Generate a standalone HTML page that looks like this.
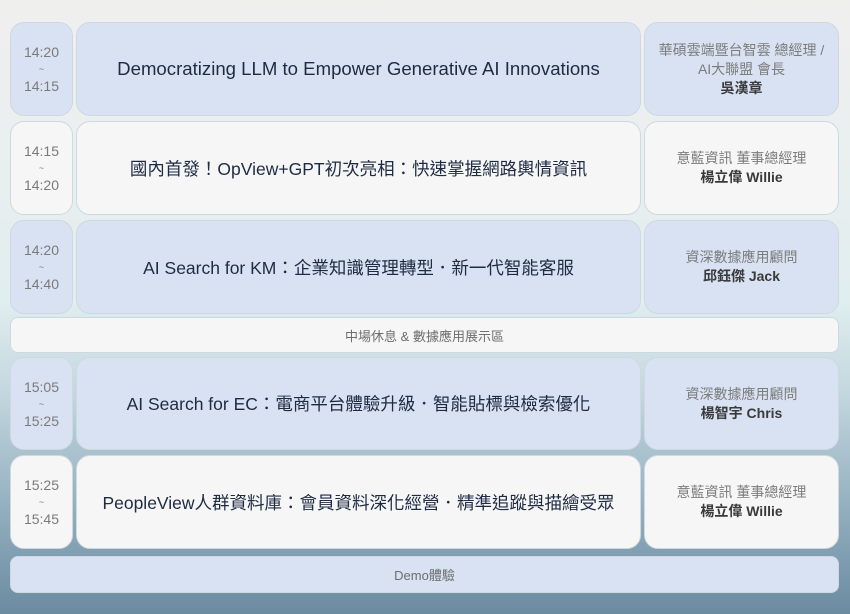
<!DOCTYPE html>
<html><head><meta charset="utf-8"><style>
*{margin:0;padding:0;box-sizing:border-box}
body{width:850px;height:614px;overflow:hidden;position:relative;font-family:"Liberation Sans","Noto Sans CJK TC",sans-serif;
background:linear-gradient(180deg,#efefee 0px,#eaefef 150px,#e0eeef 300px,#c4d8df 390px,#9fb9c7 480px,#7e9db0 560px,#6c8ba0 614px);}
.b{position:absolute;border-radius:14px;border:1px solid #cfd8e0;display:flex;flex-direction:column;align-items:center;justify-content:center;text-align:center}
.bl{background:#d9e2f3}.wh{background:#f6f6f6}
.t{color:#7a7a7a;font-size:14px;line-height:18px}
.t i{font-style:normal;font-size:9px;line-height:16px;display:block}
.ti{color:#1e2b42;font-size:17.5px}
.s1{color:#7c7c7c;font-size:14px;line-height:19px}
.s2{color:#3a3a3a;font-size:14px;font-weight:bold;line-height:19px}
.bar{color:#6d6d6d;font-size:13px}
</style></head><body>
<div class="b bl t" style="left:10px;top:22px;width:63px;height:94px">14:20<i>~</i>14:15</div>
<div class="b bl ti" style="left:76px;top:22px;width:565px;height:94px;font-size:18.6px">Democratizing LLM to Empower Generative AI Innovations</div>
<div class="b bl" style="left:644px;top:22px;width:195px;height:94px"><div class="s1">華碩雲端暨台智雲 總經理 /</div><div class="s1">AI大聯盟 會長</div><div class="s2">吳漢章</div></div>

<div class="b wh t" style="left:10px;top:121px;width:63px;height:94px">14:15<i>~</i>14:20</div>
<div class="b wh ti" style="left:76px;top:121px;width:565px;height:94px">國內首發！OpView+GPT初次亮相：快速掌握網路輿情資訊</div>
<div class="b wh" style="left:644px;top:121px;width:195px;height:94px"><div class="s1">意藍資訊 董事總經理</div><div class="s2">楊立偉 Willie</div></div>

<div class="b bl t" style="left:10px;top:220px;width:63px;height:94px">14:20<i>~</i>14:40</div>
<div class="b bl ti" style="left:76px;top:220px;width:565px;height:94px">AI Search for KM：企業知識管理轉型．新一代智能客服</div>
<div class="b bl" style="left:644px;top:220px;width:195px;height:94px"><div class="s1">資深數據應用顧問</div><div class="s2">邱鈺傑 Jack</div></div>

<div class="b wh bar" style="left:10px;top:317px;width:829px;height:36px;border-radius:8px">中場休息 &amp; 數據應用展示區</div>

<div class="b bl t" style="left:10px;top:357px;width:63px;height:93px">15:05<i>~</i>15:25</div>
<div class="b bl ti" style="left:76px;top:357px;width:565px;height:93px">AI Search for EC：電商平台體驗升級．智能貼標與檢索優化</div>
<div class="b bl" style="left:644px;top:357px;width:195px;height:93px"><div class="s1">資深數據應用顧問</div><div class="s2">楊智宇 Chris</div></div>

<div class="b wh t" style="left:10px;top:455px;width:63px;height:94px">15:25<i>~</i>15:45</div>
<div class="b wh ti" style="left:76px;top:455px;width:565px;height:94px">PeopleView人群資料庫：會員資料深化經營．精準追蹤與描繪受眾</div>
<div class="b wh" style="left:644px;top:455px;width:195px;height:94px"><div class="s1">意藍資訊 董事總經理</div><div class="s2">楊立偉 Willie</div></div>

<div class="b bl bar" style="left:10px;top:556px;width:829px;height:37px;border-radius:8px">Demo體驗</div>
</body></html>
